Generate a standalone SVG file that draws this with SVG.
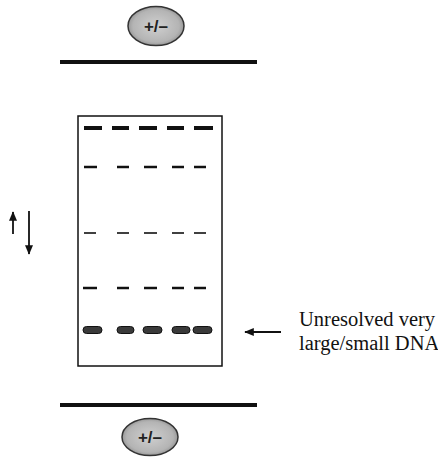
<svg xmlns="http://www.w3.org/2000/svg" width="438" height="458" viewBox="0 0 438 458">
  <style>
    .electrode { stroke: #111; stroke-width: 4; }
    .cap { fill: url(#stipple); stroke: #333; stroke-width: 1.5; }
    .sign { font-family: "Liberation Sans", Arial, sans-serif; font-size: 17px; font-weight: bold; fill: #222; text-anchor: middle; }
    .gel { fill: #fff; stroke: #111; stroke-width: 1.5; }
    .band { stroke: #111; stroke-linecap: butt; }
    .blob { fill: #3a3a3a; stroke: #111; stroke-width: 1; }
    .conn { stroke: #111; stroke-width: 1.8; fill: none; }
    .label { font-family: "Liberation Serif", "Times New Roman", serif; font-size: 20.5px; fill: #111; }
  </style>
  <defs>
    <radialGradient id="stipple" cx="50%" cy="50%" r="55%">
      <stop offset="0" stop-color="#d0d0d0"/>
      <stop offset="0.75" stop-color="#b4b4b4"/>
      <stop offset="1" stop-color="#8a8a8a"/>
    </radialGradient>
    <marker id="head" viewBox="0 0 12 10" refX="11" refY="5" markerWidth="11" markerHeight="8" markerUnits="userSpaceOnUse" orient="auto">
      <path d="M0,0 L12,5 L0,10 z" fill="#111"/>
    </marker>
  </defs>

  <g id="top-electrode">
    <line class="electrode" x1="60" y1="62" x2="257" y2="62"/>
    <ellipse class="cap" cx="156" cy="26" rx="28" ry="19.5"/>
    <text class="sign" x="156" y="32">+/–</text>
  </g>

  <g id="bottom-electrode">
    <line class="electrode" x1="60" y1="405" x2="257" y2="405"/>
    <ellipse class="cap" cx="150" cy="437" rx="28" ry="18.5"/>
    <text class="sign" x="150" y="443">+/–</text>
  </g>

  <g id="gel">
    <rect class="gel" x="78" y="116" width="144" height="250"/>
    <g id="band-row-1" class="band" stroke-width="4">
      <line x1="84" y1="128" x2="102" y2="128"/>
      <line x1="112" y1="128" x2="129" y2="128"/>
      <line x1="139" y1="128" x2="157" y2="128"/>
      <line x1="167" y1="128" x2="184" y2="128"/>
      <line x1="194" y1="128" x2="213" y2="128"/>
    </g>
    <g id="band-row-2" class="band" stroke-width="2.5">
      <line x1="84" y1="167" x2="97" y2="167"/>
      <line x1="117" y1="167" x2="129" y2="167"/>
      <line x1="144" y1="167" x2="157" y2="167"/>
      <line x1="172" y1="167" x2="184" y2="167"/>
      <line x1="194" y1="167" x2="206" y2="167"/>
    </g>
    <g id="band-row-3" class="band" stroke-width="1.6">
      <line x1="84" y1="233" x2="96" y2="233"/>
      <line x1="117" y1="233" x2="129" y2="233"/>
      <line x1="144" y1="233" x2="157" y2="233"/>
      <line x1="172" y1="233" x2="184" y2="233"/>
      <line x1="194" y1="233" x2="206" y2="233"/>
    </g>
    <g id="band-row-4" class="band" stroke-width="2.5">
      <line x1="83" y1="288" x2="97" y2="288"/>
      <line x1="117" y1="288" x2="129" y2="288"/>
      <line x1="144" y1="288" x2="157" y2="288"/>
      <line x1="172" y1="288" x2="184" y2="288"/>
      <line x1="194" y1="288" x2="206" y2="288"/>
    </g>
    <g id="band-row-5">
      <rect class="blob" x="83" y="326.5" width="19" height="7" rx="3.5"/>
      <rect class="blob" x="117" y="326.5" width="17" height="7" rx="3.5"/>
      <rect class="blob" x="143" y="326.5" width="19" height="7" rx="3.5"/>
      <rect class="blob" x="172" y="326.5" width="18" height="7" rx="3.5"/>
      <rect class="blob" x="193" y="326.5" width="19" height="7" rx="3.5"/>
    </g>
  </g>

  <g id="connectors">
    <line class="conn" x1="13" y1="234" x2="13" y2="212" marker-end="url(#head)"/>
    <line class="conn" x1="29" y1="211" x2="29" y2="254" marker-end="url(#head)"/>
    <line class="conn" x1="281" y1="332" x2="245" y2="332" marker-end="url(#head)"/>
  </g>

  <g id="label">
    <text class="label" x="299" y="326">Unresolved very</text>
    <text class="label" x="299" y="350">large/small DNA</text>
  </g>
</svg>
